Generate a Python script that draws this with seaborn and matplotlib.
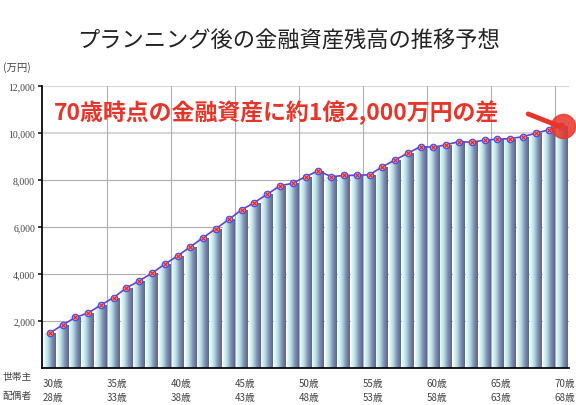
import numpy as np
import pandas as pd
import matplotlib
matplotlib.use("Agg")
import matplotlib.pyplot as plt
import seaborn as sns
from matplotlib.colors import LinearSegmentedColormap

# data (万円), ages 30..70 for householder
ages = list(range(30, 71))
assets = [1490, 1830, 2150, 2340, 2680, 3000, 3410, 3710, 4040, 4420,
          4770, 5160, 5550, 5930, 6320, 6730, 7040, 7390, 7750, 7860,
          8140, 8390, 8140, 8190, 8200, 8220, 8560, 8850, 9140, 9420,
          9390, 9500, 9630, 9600, 9700, 9730, 9760, 9840, 9990, 10130,
          10300]
yticks = [2000, 4000, 6000, 8000, 10000, 12000]

df = pd.DataFrame({"age": ages, "assets": assets})

sns.set_theme(style="white")
plt.rcParams["font.family"] = ["Noto Sans CJK JP", "DejaVu Sans"]

fig = plt.figure(figsize=(5.76, 4.06), dpi=100)
ax = fig.add_axes([0.073, 0.091, 0.915, 0.695])

sns.barplot(data=df, x="age", y="assets", color="#a0b0c8", width=0.92, ax=ax,
            saturation=1, zorder=2)

# gradient fill per bar
cmap = LinearSegmentedColormap.from_list("bar", ["#e8ffff", "#b8dde8", "#8090b0", "#5a6490"])
grad = np.linspace(0, 1, 64).reshape(1, -1)
for p in ax.patches:
    x0, w, h = p.get_x(), p.get_width(), p.get_height()
    im = ax.imshow(grad, cmap=cmap, aspect="auto", extent=[x0, x0 + w, 0, h], zorder=2)
    im.set_clip_path(p)
    p.set_alpha(0)

xs = np.arange(len(ages))
ax.plot(xs, assets, color="#7040c0", lw=1.2, zorder=3)
ax.scatter(xs, assets, s=22, facecolor="#ff8080", edgecolor="#3050ff", lw=0.8, zorder=4)
ax.scatter(xs, assets, s=8, marker="x", color="#e02020", lw=0.7, zorder=5)

ax.set_xlim(-0.6, len(ages) - 0.4)
ax.set_ylim(0, 12000)
ax.set_yticks(yticks)
ax.set_yticklabels([f"{v:,}" for v in yticks], fontsize=7, color="#444444",
                   family=["Liberation Serif", "DejaVu Serif"])
ax.set_xticks([])
ax.set_xlabel("")
ax.set_ylabel("")
for y in yticks:
    ax.axhline(y, color="#d8d8d8" if y >= 10000 else "#b0b0b0", lw=1.5 if y >= 10000 else 0.8, zorder=1)
for i in range(5, len(ages), 5):
    ax.axvline(i - 0.5, color="#b0b0b0", lw=0.8, zorder=1)
for s in ["top", "right"]:
    ax.spines[s].set_visible(False)
ax.spines["left"].set_color("black")
ax.spines["bottom"].set_color("black")
ax.tick_params(axis="y", length=3, left=True, pad=2)

# age labels
for i in range(0, len(ages), 5):
    ax.text(i - 0.55, -0.035, f"{ages[i]}歳", transform=ax.get_xaxis_transform(),
            ha="left", va="top", fontsize=7, color="#444444")
    ax.text(i - 0.55, -0.085, f"{ages[i] - 2}歳", transform=ax.get_xaxis_transform(),
            ha="left", va="top", fontsize=7, color="#444444")
fig.text(0.005, 0.065, "世帯主", fontsize=7, color="#444444")
fig.text(0.005, 0.018, "配偶者", fontsize=7, color="#444444")

fig.text(0.5, 0.9, "プランニング後の金融資産残高の推移予想", ha="center", va="center",
         fontsize=16, color="#222222")
fig.text(0.005, 0.825, "(万円)", fontsize=7.5, color="#444444")

# annotation
ax.text(0.3, 10900, "70歳時点の金融資産に約1億2,000万円の差", fontsize=16.5,
        fontweight="bold", color="#e8352a", va="center", zorder=6)
ax.annotate("", xy=(40, 10250), xytext=(37.2, 10850),
            arrowprops=dict(arrowstyle="-", color="#e8352a", lw=3.5), zorder=6)
ax.scatter([40.1], [10300], s=300, color="#e8352a", alpha=0.85, zorder=6, clip_on=False)

fig.savefig("out.png", dpi=100)
